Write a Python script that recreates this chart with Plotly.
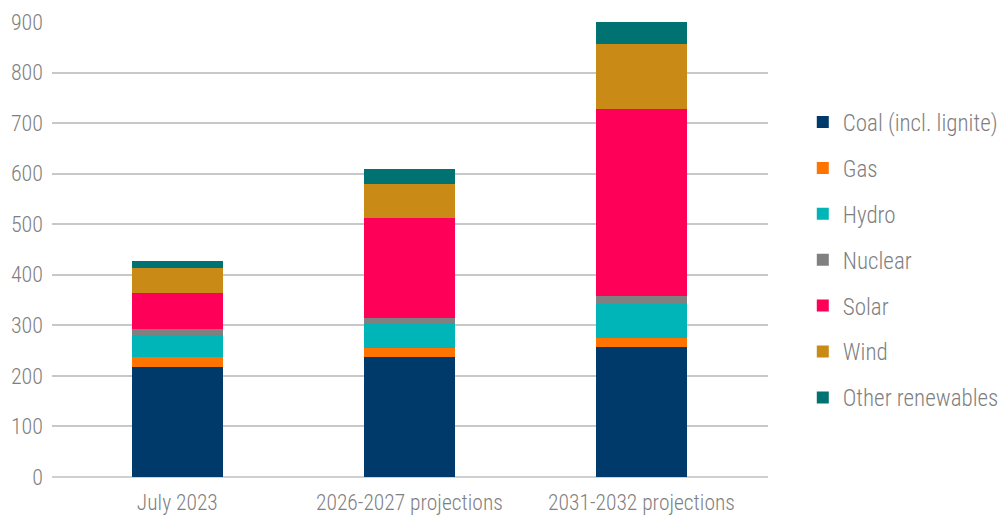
import plotly.graph_objects as go

categories = ["July 2023", "2026-2027 projections", "2031-2032 projections"]

coal = [217, 237, 257]
gas = [20, 18, 18]
hydro = [44, 50, 67]
nuclear = [12, 10, 16]
solar = [70, 198, 370]
wind = [51, 67, 129]
other_renewables = [14, 30, 43]

series = [
    ("Coal (incl. lignite)", coal, "#003A6B"),
    ("Gas", gas, "#FF7300"),
    ("Hydro", hydro, "#00B5B8"),
    ("Nuclear", nuclear, "#808080"),
    ("Solar", solar, "#FF0059"),
    ("Wind", wind, "#C98A16"),
    ("Other renewables", other_renewables, "#007272"),
]

FONT = "Roboto Condensed, Roboto, sans-serif"
GREY = "#7f7f7f"

fig = go.Figure()
for name, values, color in series:
    fig.add_trace(go.Bar(
        x=categories, y=values, name=name, legendgroup=name,
        marker=dict(color=color, line=dict(width=0)),
    ))

fig.update_layout(
    barmode="stack",
    bargap=0.61,
    width=1006, height=517,
    margin=dict(l=52, r=238, t=22, b=40, autoexpand=False),
    paper_bgcolor="white", plot_bgcolor="white",
    font=dict(family=FONT, size=21, color=GREY),
    legend=dict(
        traceorder="grouped", tracegroupgap=13,
        xref="container", yref="container",
        x=0.798, xanchor="left", y=0.497, yanchor="middle",
        font=dict(family=FONT, size=23, color=GREY, weight=300),
        itemwidth=30, maxheight=1,
    ),
    xaxis=dict(
        range=[-0.54, 2.545], showgrid=False, showline=False,
        ticks="", ticklabelstandoff=10,
        tickfont=dict(family=FONT, size=21.5, color=GREY, weight=300),
    ),
    yaxis=dict(
        range=[0, 900], dtick=100, showgrid=True, gridcolor="#c8c8c8",
        gridwidth=1.5, zeroline=True, zerolinecolor="#d0d0d0", zerolinewidth=2,
        ticks="", ticklabelstandoff=8,
        tickfont=dict(family=FONT, size=22, color=GREY, weight=300),
    ),
)

fig.write_html("out.html")
